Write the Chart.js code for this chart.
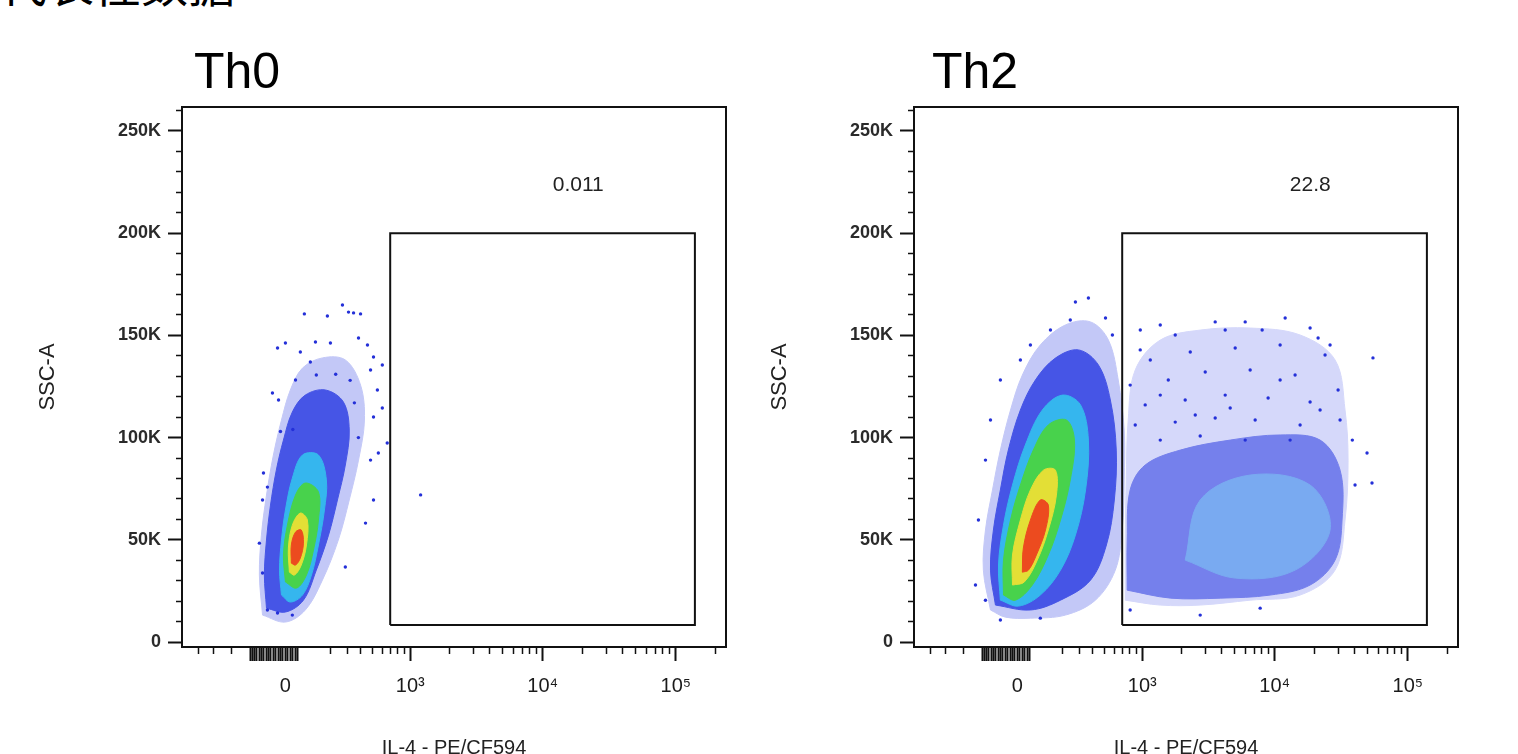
<!DOCTYPE html>
<html>
<head>
<meta charset="utf-8">
<script src="https://cdn.jsdelivr.net/npm/chart.js@4.4.1/dist/chart.umd.min.js"></script>
<style>
  body { margin: 0; background: #fff; width: 1518px; height: 754px; overflow: hidden; position: relative; }
  .cap { position: absolute; left: 0; top: -42px; font: 47px/1 "Noto Sans CJK SC", sans-serif; white-space: nowrap; color: #000; }
  #th0 { position: absolute; left: 0; top: 0; }
  #th2 { position: absolute; left: 732px; top: 0; }
</style>
</head>
<body>
<div class="cap">代表性数据</div>
<canvas id="th0" width="740" height="754"></canvas>
<canvas id="th2" width="786" height="754"></canvas>
<script>
// IL-4 axis is biexponential, approximated with asinh
const X_COFACTOR = 234;
const T = v => Math.asinh(v / X_COFACTOR);

const xRange = [-680, 238000];
const yRange = [-2.4, 261.7];          // SSC-A, thousands

const xMajor = [0, 1e3, 1e4, 1e5];
const xMajorLabels = ['0', '10³', '10⁴', '10⁵'];
const xNearZero = [-150, -140, -130, -120, -110, -100, -90, -80, -70, -60, -50, -40, -30, -20, -10, 10, 20, 30, 40, 50];
const xMinor = [-500, -375, -250, 200, 300, 400, 500, 600, 700, 800, 900,
  2000, 3000, 4000, 5000, 6000, 7000, 8000, 9000,
  20000, 30000, 40000, 50000, 60000, 70000, 80000, 90000, 200000];
const yMajor = [0, 50, 100, 150, 200, 250];
const yMajorLabels = ['0', '50K', '100K', '150K', '200K', '250K'];
const yMinor = [10, 20, 30, 40, 60, 70, 80, 90, 110, 120, 130, 140, 160, 170, 180, 190, 210, 220, 230, 240, 260];

const panelTitles = ['Th0', 'Th2'];
const gateFreq = ['0.011', '22.8'];
const gateX = [697, 139000];
const gateY = [8.3, 200];
const freqAt = [18500, 223.5];

// density regions, [IL-4, SSC-A (K)]
const th0Outer = [[-95,13.2],[-109,32.8],[-100,52.3],[-78,71.9],[-49,91.5],[-16,108.6],[20,123.3],[70,134],[160,139],[288,138],[397,125.7],[429,108.6],[381,89],[314,69.5],[245,49.9],[160,30.3],[82,15.7],[0,9.8]];
const th0Dense = [[-78,16.6],[-87,32.8],[-78,49.9],[-61,67],[-37,84.1],[-8,98.8],[28,112.5],[82,120.8],[175,123.3],[276,117.4],[314,103.7],[288,86.6],[240,69.5],[191,52.3],[131,35.2],[74,20.5],[0,14.7]];
const th0Cyan = [[-16,23],[-24,35.2],[-16,49.9],[0,64.6],[28,80.2],[70,91.5],[141,91.5],[180,79.3],[170,64.6],[141,47.5],[109,32.8],[70,23],[20,19.6]];
const th0Green = [[0,29.4],[-8,42.6],[8,57.2],[41,71.9],[82,77.8],[141,73.4],[141,59.7],[118,45],[87,32.8],[45,26.4]];
const th0Yellow = [[16,34.2],[12,46],[28,57.2],[61,63.1],[91,59.7],[87,47.5],[65,37.7],[37,32.8]];
const th0Red = [[24,38.6],[24,47.5],[41,53.8],[65,54.8],[74,48.4],[61,41.1],[41,37.7]];
const th0Dots = [[270,164.9],[309,161.4],[344,161],[397,160.5],[78,160.5],[185,159.5],[-32,143.8],[0,146.3],[127,146.8],[201,146.3],[381,148.7],[455,145.3],[61,141.9],[104,137],[511,139.4],[603,135.5],[483,133.1],[-53,121.8],[-28,118.4],[550,123.3],[603,114.5],[511,110.1],[660,97.4],[560,92.5],[483,89],[-91,82.7],[-74,75.8],[511,69.5],[438,58.2],[-95,69.5],[-109,48.4],[-95,33.8],[288,36.7],[-74,15.7],[28,13.2],[-32,14.2],[1200,72],
  [41,128.2],[131,130.6],[230,131],[320,128],[350,117],[380,100],[-20,103],[30,104]];

const th2Outer = [[-113,15.7],[-146,35.2],[-136,54.8],[-104,74.4],[-70,93.9],[-28,113.5],[20,130.6],[95,145.3],[217,155.1],[381,156.6],[540,147.7],[648,128.2],[723,103.7],[723,79.3],[697,54.8],[614,35.2],[420,20.5],[217,13.2],[53,11.7],[-49,12.2]];
const th2Dense = [[-91,18.1],[-113,35.2],[-100,54.8],[-70,74.4],[-37,93.9],[12,113.5],[74,128.2],[165,138.9],[296,142.9],[446,135.5],[560,118.4],[625,93.9],[603,69.5],[520,47.5],[381,30.3],[191,20.5],[53,15.7]];
const th2Cyan = [[-70,20.5],[-78,37.7],[-57,57.2],[-20,76.8],[32,96.4],[104,113.5],[201,120.8],[309,116],[365,98.8],[344,74.4],[276,52.3],[191,35.2],[95,23],[4,17.6]];
const th2Green = [[-57,23],[-57,40.1],[-28,59.7],[12,76.8],[65,93.9],[131,106.2],[223,108.6],[270,98.8],[245,79.3],[191,59.7],[131,42.6],[61,27.9],[-8,20.5]];
const th2Yellow = [[-20,27.9],[-20,42.6],[12,59.7],[53,74.4],[109,84.1],[165,84.1],[170,71.9],[131,54.8],[82,40.1],[28,29.4]];
const th2Red = [[20,34.2],[24,46],[53,59.7],[95,69.5],[131,67],[118,54.8],[78,42.6],[45,35.2]];
const th2PosOuter = [[737,20.5],[737,49.9],[750,79.3],[777,108.6],[882,133.1],[1373,147.7],[2754,152.6],[6543,153.6],[15521,150.2],[28408,138],[33766,113.5],[35568,89],[33766,59.7],[28408,35.2],[15521,23],[6543,20.5],[2754,18.1],[1373,18.1]];
const th2PosDense = [[763,25.4],[763,49.9],[805,74.4],[1053,86.6],[1947,93.9],[4630,98.8],[10986,101.3],[21926,98.8],[30972,84.1],[32056,59.7],[28408,40.1],[18447,27.9],[9243,23],[3894,21.5],[1647,21.5]];
const th2PosCyan = [[2122,40.1],[2754,69.5],[6543,81.7],[18447,76.8],[26056,54.8],[14234,35.2],[5050,31.3]];
const th2Dots = [[365,168.3],[276,166.3],[245,157.5],[141,152.6],[53,145.3],[12,138],[-70,128.2],[-113,108.6],[-136,89],[-170,59.7],[-185,27.9],[-136,20.5],[-70,10.8],[95,11.7],[511,158.5],[582,150.2],[54700,139],[49370,92.5],[53800,77.8],[40131,76.8],[6004,156.6],[18447,153.6],[26056,145.3],[1373,155.1],[964,142.9],[11985,158.5],[38290,98.8],[805,15.7],[2754,13.2],[7778,16.6],[4247,152.6],
  [965,152.6],[1784,150.2],[3571,156.6],[8050,152.6],[21180,148.7],[1152,138],[2317,141.9],[5050,143.8],[10986,145.3],[23900,140.4],[805,125.7],[1580,128.2],[3005,132.1],[6543,133.1],[14234,130.6],[29930,123.3],[1053,116],[2122,118.4],[4247,120.8],[8926,119.4],[18447,117.4],[882,106.2],[1784,107.6],[3571,109.6],[7133,108.6],[15521,106.2],[30972,108.6],[1373,98.8],[2754,100.8],[6004,98.8],[13057,98.8],[4630,114.5],[10986,128.2],[2527,111.1],[21926,113.5],[1373,120.8]];

const toXY = pts => pts.map(p => ({ x: T(p[0]), y: p[1] }));

function area(pts, color, order) {
  const closed = pts.concat([pts[0]]);
  return {
    data: toXY(closed), fill: 'shape', backgroundColor: color, borderColor: color,
    borderWidth: 1, pointRadius: 0, pointHoverRadius: 0, tension: 0.35, order: order,
  };
}

function dots(pts, order) {
  return {
    data: toXY(pts), showLine: false, pointRadius: 1.7, pointBorderWidth: 0,
    pointBackgroundColor: '#2430d8', order: order,
  };
}

function gate(order) {
  const box = [[gateX[0], gateY[0]], [gateX[0], gateY[1]], [gateX[1], gateY[1]], [gateX[1], gateY[0]], [gateX[0], gateY[0]]];
  return {
    data: toXY(box), borderColor: '#111', borderWidth: 2, pointRadius: 0,
    fill: false, tension: 0, order: order,
  };
}

const panelDecor = {
  id: 'panelDecor',
  afterDraw(chart, args, opts) {
    const { ctx, chartArea, scales } = chart;
    ctx.save();
    ctx.strokeStyle = '#111';
    ctx.lineWidth = 2;
    ctx.beginPath();
    ctx.moveTo(chartArea.left, chartArea.top);
    ctx.lineTo(chartArea.right, chartArea.top);
    ctx.lineTo(chartArea.right, chartArea.bottom);
    ctx.stroke();
    ctx.fillStyle = '#000';
    ctx.font = '50px "Liberation Sans", Arial, sans-serif';
    ctx.textBaseline = 'alphabetic';
    ctx.fillText(opts.title, chartArea.left + opts.titleDx, chartArea.top - 19);
    ctx.fillStyle = '#222';
    ctx.font = '21px "Liberation Sans", Arial, sans-serif';
    ctx.textAlign = 'center';
    ctx.textBaseline = 'middle';
    ctx.fillText(opts.freq, scales.x.getPixelForValue(T(freqAt[0])), scales.y.getPixelForValue(freqAt[1]));
    ctx.restore();
  }
};

function axisOptions() {
  return {
    x: {
      type: 'linear', min: T(xRange[0]), max: T(xRange[1]),
      afterFit: s => { s.height = 107; },
      afterBuildTicks: s => {
        const t = [];
        xMajor.forEach((v, i) => t.push({ value: T(v), lbl: xMajorLabels[i], long: true }));
        xNearZero.forEach(v => t.push({ value: T(v), lbl: '', long: true }));
        xMinor.forEach(v => t.push({ value: T(v), lbl: '', long: false }));
        s.ticks = t.sort((a, b) => a.value - b.value);
      },
      ticks: {
        autoSkip: false, maxRotation: 0, minRotation: 0, padding: 13, color: '#1a1a1a',
        font: { family: '"Liberation Sans Narrow", "Liberation Sans", Arial, sans-serif', size: 20 },
        callback: (v, i, ticks) => ticks[i].lbl,
      },
      grid: {
        drawOnChartArea: false, tickLength: 14, tickColor: '#111',
        tickWidth: c => (c.tick && c.tick.long ? 2 : 1.5),
        tickBorderDash: c => (c.tick && c.tick.long ? [] : [6, 100]),
      },
      border: { color: '#111', width: 2 },
      title: {
        display: true, text: 'IL-4 - PE/CF594', color: '#222', padding: { top: 0, bottom: -6 },
        font: { family: '"Liberation Sans Narrow", "Liberation Sans", Arial, sans-serif', size: 20 },
      },
    },
    y: {
      type: 'linear', min: yRange[0], max: yRange[1],
      afterFit: s => { s.width = 182; },
      afterBuildTicks: s => {
        const t = [];
        yMajor.forEach((v, i) => t.push({ value: v, lbl: yMajorLabels[i], long: true }));
        yMinor.forEach(v => t.push({ value: v, lbl: '', long: false }));
        s.ticks = t.sort((a, b) => a.value - b.value);
      },
      ticks: {
        autoSkip: false, padding: 7, color: '#2a2a2a',
        font: { family: '"Liberation Sans", Arial, sans-serif', size: 18, weight: 'bold' },
        callback: (v, i, ticks) => ticks[i].lbl,
      },
      grid: {
        drawOnChartArea: false, tickLength: 14, tickColor: '#111',
        tickWidth: c => (c.tick && c.tick.long ? 2 : 1.5),
        tickBorderDash: c => (c.tick && c.tick.long ? [] : [0, 8, 6, 100]),
      },
      border: { color: '#111', width: 2 },
      title: {
        display: true, text: 'SSC-A', color: '#222', padding: { top: 35, bottom: 0 },
        font: { family: '"Liberation Sans", Arial, sans-serif', size: 22 },
      },
    },
  };
}

function makePanel(id, datasets, idx, titleDx, padRight) {
  return new Chart(document.getElementById(id), {
    type: 'line',
    data: { datasets: datasets },
    options: {
      responsive: false, animation: false, devicePixelRatio: 1,
      layout: { padding: { left: 0, top: 107, right: padRight, bottom: 0 } },
      scales: axisOptions(),
      plugins: {
        legend: { display: false }, tooltip: { enabled: false },
        panelDecor: { title: panelTitles[idx], titleDx: titleDx, freq: gateFreq[idx] },
      },
    },
    plugins: [panelDecor],
  });
}

const chart1 = makePanel('th0', [
  gate(0), dots(th0Dots, 1),
  area(th0Red, '#ec4b1f', 2), area(th0Yellow, '#e3df36', 3), area(th0Green, '#48d24c', 4),
  area(th0Cyan, '#35b6ee', 5), area(th0Dense, '#4655e6', 6), area(th0Outer, '#c3c8f7', 7),
], 0, 12, 14);

const chart2 = makePanel('th2', [
  gate(0), dots(th2Dots, 1),
  area(th2Red, '#ec4b1f', 2), area(th2Yellow, '#e3df36', 3), area(th2Green, '#48d24c', 4),
  area(th2Cyan, '#35b6ee', 5), area(th2Dense, '#4655e6', 6),
  area(th2PosCyan, '#79aaf1', 7), area(th2PosDense, '#7580ec', 8),
  area(th2Outer, '#c3c8f7', 9), area(th2PosOuter, '#d5d8fa', 10),
], 1, 18, 60);
</script>
</body>
</html>
